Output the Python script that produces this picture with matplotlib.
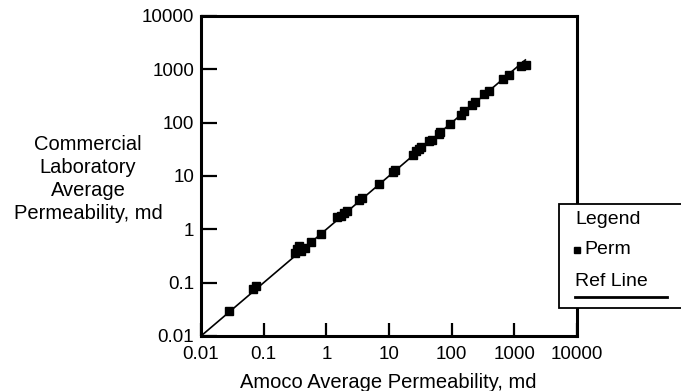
import matplotlib

matplotlib.use("Agg")
import matplotlib.pyplot as plt  # noqa: E402
from matplotlib.patches import Rectangle  # noqa: E402
from matplotlib.lines import Line2D  # noqa: E402

plt.rcParams.update({
    "font.family": ["Liberation Sans", "DejaVu Sans"],
    "figure.dpi": 100,
})

amoco_perm = [0.028, 0.068, 0.075, 0.32, 0.34, 0.36, 0.39, 0.45, 0.56, 0.82,
              1.5, 1.7, 1.9, 2.1, 3.3, 3.7, 7.0, 11.5, 12.5, 24, 27, 30, 33,
              44, 48, 62, 66, 95, 140, 155, 210, 240, 330, 390, 650, 820,
              1300, 1550]
lab_perm = [0.029, 0.075, 0.085, 0.36, 0.42, 0.48, 0.40, 0.45, 0.58, 0.82,
            1.7, 1.8, 2.0, 2.2, 3.5, 3.9, 7.0, 12.0, 13.0, 25, 29, 32, 35,
            45, 48, 62, 66, 95, 140, 165, 210, 245, 340, 400, 650, 800,
            1150, 1200]
ref_line_x = [0.01, 1500]
ref_line_y = [0.01, 1500]
decades = [0.01, 0.1, 1, 10, 100, 1000, 10000]
decade_labels = ["0.01", "0.1", "1", "10", "100", "1000", "10000"]

fig = plt.figure(figsize=(6.81, 3.91))
ax = fig.add_axes([201 / 681, 1 - 336 / 391, 376 / 681, 320 / 391])

ax.plot(ref_line_x, ref_line_y, color="black", linewidth=1.2, zorder=2)
ax.plot(amoco_perm, lab_perm, linestyle="none", marker="s", markersize=5.8,
        color="black", zorder=3)

ax.set_xscale("log")
ax.set_yscale("log")
ax.set_xlim(0.01, 10000)
ax.set_ylim(0.01, 10000)
ax.set_xticks(decades)
ax.set_xticklabels(decade_labels)
ax.set_yticks(decades)
ax.set_yticklabels(decade_labels)
ax.minorticks_off()
ax.tick_params(axis="both", direction="in", width=1.6, labelsize=13.5)
ax.tick_params(axis="x", length=9.5, pad=7)
ax.tick_params(axis="y", length=11.5, pad=5)
for spine in ax.spines.values():
    spine.set_linewidth(2.2)

fig.text(88 / 681, 1 - 179 / 391,
         "Commercial\nLaboratory\nAverage\nPermeability, md",
         ha="center", va="center", fontsize=14.5, linespacing=1.28)
fig.text(388 / 681, 3 / 391, "Amoco Average Permeability, md",
         ha="center", va="baseline", fontsize=14.5)

# hand-drawn legend box at the right edge
fig.patches.append(Rectangle((559 / 681, 1 - 308 / 391), 140 / 681, 104 / 391,
                             transform=fig.transFigure, facecolor="white",
                             edgecolor="black", linewidth=1.3, zorder=5))
fig.text(575 / 681, 1 - 219 / 391, "Legend", ha="left", va="center",
         fontsize=14, zorder=6)
fig.add_artist(Line2D([577 / 681], [1 - 250 / 391], marker="s", markersize=5,
                      color="black", transform=fig.transFigure, zorder=6))
fig.text(584 / 681, 1 - 250 / 391, "Perm", ha="left", va="center",
         fontsize=14, zorder=6)
fig.text(575 / 681, 1 - 282 / 391, "Ref Line", ha="left", va="center",
         fontsize=14, zorder=6)
fig.add_artist(Line2D([575 / 681, 667 / 681], [1 - 297 / 391, 1 - 297 / 391],
                      color="black", linewidth=2, transform=fig.transFigure,
                      zorder=6))

fig.savefig("out.png", dpi=100)
